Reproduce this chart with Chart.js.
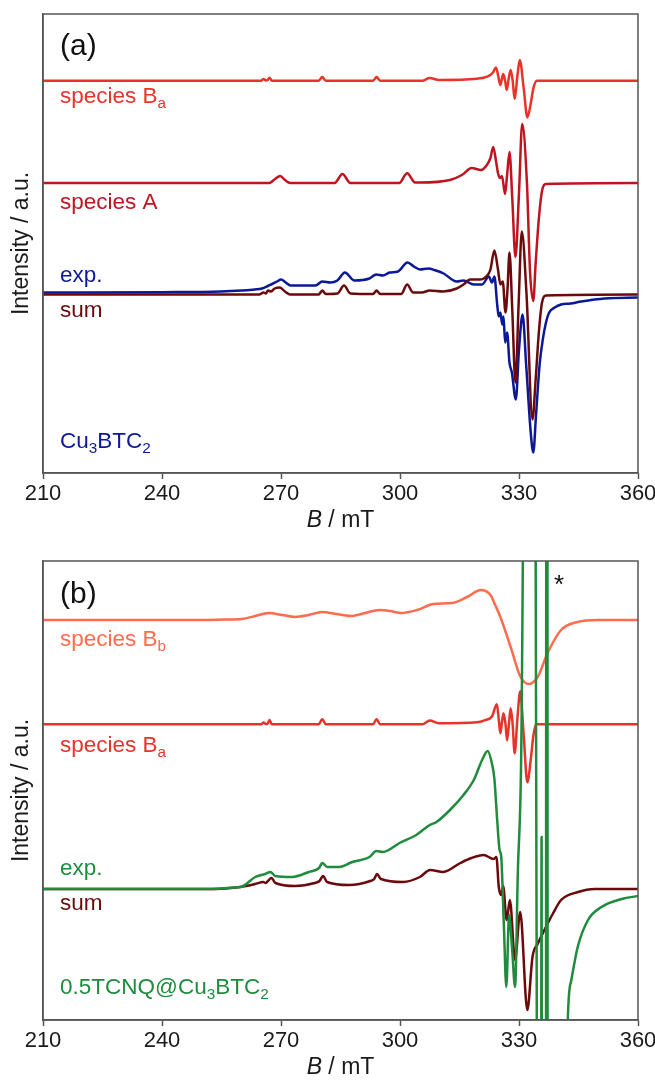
<!DOCTYPE html>
<html>
<head>
<meta charset="utf-8">
<script src="https://cdn.jsdelivr.net/npm/chart.js@4"></script>
<style>
  body { margin: 0; background: #fff; }
  .panel { position: absolute; left: 0; }
  canvas { display: block; }
</style>
</head>
<body>
<div class="panel" style="top:0"><canvas id="chartA" width="655" height="545"></canvas></div>
<div class="panel" style="top:545px"><canvas id="chartB" width="655" height="537"></canvas></div>
<script>
// ---- data (B in mT, intensity relative to each trace's baseline) ----

// panel (a)
const fieldBaA = [210, 265.0, 265.6, 266.2, 266.6, 267.1, 267.7, 279.5, 280.4, 281.3, 293.2, 294.1, 295.0, 305.6, 307.5, 309.8, 319.4, 322.0, 323.4, 324.2, 324.8, 325.3, 325.7, 326.0, 326.5, 326.9, 327.4, 327.9, 328.4, 328.9, 329.6, 330.2, 331.2, 332.1, 333.0, 333.6, 334.5, 360];
const intBaA = [0, 0, 1.7, 0.3, 0.5, 3, 0, 0, 3.7, 0, 0, 3.7, 0, 0, 2.7, 0.8, 2, 4, 8, 13.3, 4, -4.3, 2, 6.7, 0, -9.3, 2, 10.7, 0, -18.3, 5, 20.7, -8, -36.7, -22, -8, 0, 0];

const fieldA = [210, 267.0, 268.5, 269.8, 271.0, 272.3, 283.5, 285.5, 287.5, 299.8, 301.8, 303.8, 305.0, 312.6, 315.6, 318.1, 320.4, 321.9, 322.8, 323.5, 324.2, 324.7, 325.2, 325.7, 326.5, 327.0, 327.6, 328.3, 329.1, 330.0, 330.8, 332.0, 332.8, 333.6, 334.2, 335.0, 335.8, 336.8, 360];
const intA = [0, 0, 4, 7, 3, 0, 0, 9, 0, 0, 9.7, 0.5, 0.5, 3, 8, 15, 13, 18, 25, 36, 22, 10, 5, 7, -11, 8, 31, -15, -74, -10, 59, 0, -90, -118, -80, -36, -8, -1, 0];

const fieldSumA = [210, 264.5, 265.6, 266.2, 266.7, 267.5, 268.4, 269.7, 271.0, 272.3, 279.5, 280.4, 281.3, 284.2, 285.9, 287.5, 293.2, 294.1, 295.0, 300.3, 301.8, 303.3, 305.5, 307.5, 310.9, 314.3, 316.0, 317.7, 320.0, 321.1, 322.2, 322.8, 323.8, 324.7, 325.3, 325.9, 326.6, 327.1, 327.6, 328.3, 329.1, 329.9, 330.7, 331.9, 333.4, 334.2, 335.0, 335.8, 336.8, 360];
const intSumA = [0, 0, 2, 1, 4, 3, 6, 7, 3, 0, 0, 4, 0.5, 1, 9, 1, 0.5, 4, 0.5, 0.5, 10, 2, 2, 4, 3, 6, 10, 15, 15, 16, 20, 25, 44, 25, 10, 13, -18, 5, 42, -15, -88, -10, 63, 0, -125, -85, -38, -8, -1, 0];

const fieldExpA = [210, 240, 255, 260.1, 263.4, 265.2, 266.9, 268.0, 269.0, 270.0, 271.2, 272.4, 275.0, 278.7, 280.4, 282.5, 284.2, 286.1, 288.5, 292.3, 294.0, 295.7, 297.4, 299.5, 301.9, 303.5, 305.0, 307.1, 309.0, 311.0, 314.3, 316.0, 318.6, 320.7, 322.4, 323.2, 323.8, 324.5, 324.9, 325.3, 325.8, 326.1, 326.5, 327.0, 327.6, 328.2, 329.2, 330.0, 330.9, 331.8, 333.0, 333.6, 334.3, 335.2, 336.0, 336.8, 337.6, 339.0, 340.6, 343.0, 345.7, 351.6, 360];
const intExpA = [2, 2.3, 3, 4, 5, 6, 9, 11, 13, 15, 12, 9, 9, 9, 13, 12, 14, 22, 14, 16, 20, 19, 22, 23, 32, 28, 25, 26, 24, 21, 13, 14, 10, 10, 18, 12, 18, -10, -22, -18, -30, -22, -48, -38, -68, -78, -105, -55, -20, -70, -140, -158, -120, -70, -45, -28, -18, -13, -10, -9, -7, -4, -3];

// panel (b)
const fieldBb = [210, 250, 256, 260.1, 263.5, 266.9, 270.3, 273.6, 277.0, 280.4, 284.0, 287.6, 291.2, 294.8, 297.5, 300.3, 304.3, 308.4, 313.0, 316.9, 320.4, 322.8, 324.0, 325.3, 327.9, 330.4, 332.5, 334.7, 337.2, 340.6, 344.8, 349.9, 360];
const intBb = [0, 0, 0.5, 1, 4, 7, 5, 3, 5, 8, 6, 4, 7, 10, 9, 7, 10, 16, 17, 23, 30, 25, 15, 3, -27, -57, -64, -57, -33, -10, -2, 0, 0];

const fieldBaB = [210, 265.0, 265.6, 266.2, 266.6, 267.1, 267.7, 279.5, 280.4, 281.3, 293.2, 294.1, 295.0, 305.6, 307.5, 309.8, 319.4, 321.3, 323.2, 324.4, 324.9, 325.3, 325.7, 326.1, 326.6, 327.0, 327.5, 327.9, 328.4, 328.9, 329.6, 330.3, 331.2, 332.1, 333.0, 333.6, 334.3, 360];
const intBaB = [0, 0, 1.7, 0.3, 0.5, 4.3, 0, 0, 5, 0, 0, 5, 0, 0, 3.7, 1, 2, 4, 8, 20, 5, -9, 2, 11, 0, -16, 2, 16, 0, -29, 6, 33, -12, -58, -34, -12, 0, 0];

const fieldSumB = [210, 250, 256, 260.1, 263.5, 265.5, 266.2, 266.7, 267.6, 268.6, 273.6, 278.5, 279.7, 280.6, 281.6, 287.2, 292.5, 293.5, 294.2, 295.2, 300.8, 305.0, 307.6, 310.9, 315.2, 318.0, 321.1, 323.6, 324.3, 324.9, 325.5, 326.0, 326.9, 327.7, 329.0, 330.3, 332.1, 333.4, 334.7, 336.4, 338.5, 340.6, 344.9, 349.0, 360];
const intSumB = [0, 0, 0.5, 2.3, 5, 7, 6, 8, 11, 6, 3, 6, 8, 13, 7, 4, 8, 10, 15, 10, 7, 12, 19, 17, 26, 31, 34, 30, 32, 2, -6, 3, -31, -11, -71, -23, -121, -68, -55, -41, -25, -11, -3, 0, 0];

const fieldExpB = [210, 250, 255, 258, 260.1, 263.5, 266.0, 267.3, 268.6, 272.8, 277.0, 279.6, 280.4, 281.7, 284.7, 288.0, 292.3, 294.0, 295.7, 299.9, 304.1, 307.5, 309.2, 312.6, 316.0, 318.6, 320.7, 322.1, 323.2, 323.8, 324.5, 325.1, 325.5, 326.2, 326.8, 327.5, 328.3, 329.0, 329.7, 330.6, 333.1, 335.4, 335.7, 335.9, 336.7, 337.05, 337.35, 338.0, 340.0, 342.3, 343.2, 344.8, 347.4, 350.8, 355.9, 360];
const intExpB = [0, 0, 0.5, 1.5, 2.3, 12, 15, 17, 13, 12, 17, 21, 26, 22, 22, 27, 32, 38, 37, 46, 54, 64, 67, 79, 94, 109, 129, 138, 125, 110, 69, 39, 33, -38, -98, -26, -62, -98, 16, 149, 1500, -1000, 52, -1000, -1500, 2500, -2500, -2000, -900, -131, -91, -58, -31, -18, -10, -7];

// ---- layout / style ----
const FONT = "'Liberation Sans', Arial, sans-serif";
const Y_MAX = 459;
const baseA = { Ba: 392.3, A: 290, sum: 178.5 };
const baseB = { Bb: 400, Ba: 295.7, sum: 131 };
const colors = {
  Ba: '#e8322a', A: '#be1520', expA: '#0b1898', sum: '#6a0a0c',
  Bb: '#ff6c4c', expB: '#1f8b3d'
};

function trace(field, vals, offset) {
  return field.map((b, i) => ({ x: b, y: offset + vals[i] }));
}

function line(field, vals, offset, color) {
  return { data: trace(field, vals, offset), borderColor: color, borderWidth: 2.5,
           pointRadius: 0, cubicInterpolationMode: 'monotone', fill: false };
}

const framePlugin = {
  id: 'frame',
  afterDraw(chart) {
    const { ctx, chartArea: a } = chart;
    ctx.save();
    ctx.strokeStyle = '#555';
    ctx.lineWidth = 1.5;
    ctx.strokeRect(a.left, a.top, a.right - a.left, a.bottom - a.top);

    // x axis title with italic B
    const cx = (a.left + a.right) / 2, ty = a.bottom + 48;
    ctx.fillStyle = '#1a1a1a';
    ctx.textBaseline = 'middle';
    ctx.font = 'italic 23px ' + FONT;
    const w1 = ctx.measureText('B').width;
    ctx.font = '23px ' + FONT;
    const w2 = ctx.measureText(' / mT').width;
    const x0 = cx - (w1 + w2) / 2;
    ctx.font = 'italic 23px ' + FONT;
    ctx.fillText('B', x0, ty);
    ctx.font = '23px ' + FONT;
    ctx.fillText(' / mT', x0 + w1, ty);
    ctx.restore();
  }
};

const textPlugin = {
  id: 'panelText',
  afterDraw(chart, args, opts) {
    const ctx = chart.ctx, xs = chart.scales.x, ys = chart.scales.y;
    ctx.save();
    opts.items.forEach(it => {
      let x = xs.getPixelForValue(it.b);
      const y = ys.getPixelForValue(it.v);
      ctx.fillStyle = it.color;
      ctx.textAlign = 'left';
      ctx.textBaseline = it.baseline || 'alphabetic';
      it.parts.forEach(p => {
        const sub = Array.isArray(p);
        const txt = sub ? p[0] : p;
        const size = sub ? it.size * 0.68 : it.size;
        ctx.font = size + 'px ' + FONT;
        ctx.fillText(txt, x, sub ? y + it.size * 0.24 : y);
        x += ctx.measureText(txt).width;
      });
    });
    ctx.restore();
  }
};

function makeOptions(padTop, xHeight, items) {
  return {
    responsive: false,
    animation: false,
    layout: { padding: { top: padTop, right: 17, left: 0, bottom: 0 } },
    plugins: { legend: { display: false }, tooltip: { enabled: false }, panelText: { items: items } },
    scales: {
      x: {
        type: 'linear', min: 210, max: 360,
        ticks: { stepSize: 30, autoSkip: false, maxRotation: 0, color: '#1a1a1a',
                 font: { size: 22, family: FONT }, padding: 2 },
        grid: { drawOnChartArea: false, drawTicks: true, tickLength: 6, tickColor: '#555', tickWidth: 1.5 },
        border: { color: '#555', width: 1.5 },
        afterFit(s) { s.height = xHeight; s.paddingLeft = 0; s.paddingRight = 0; }
      },
      y: {
        type: 'linear', min: 0, max: Y_MAX,
        ticks: { display: false },
        grid: { drawOnChartArea: false, drawTicks: false },
        border: { color: '#555', width: 1.5 },
        title: { display: true, text: 'Intensity / a.u.', color: '#1a1a1a',
                 font: { size: 23, family: FONT }, padding: { top: 8, bottom: 0 } },
        afterFit(s) { s.width = 43; }
      }
    }
  };
}

const labelsA = [
  { parts: ['(a)'], b: 214.3, v: 426, size: 30, color: '#111', baseline: 'middle' },
  { parts: ['species B', ['a']], b: 214.3, v: 370, size: 22.5, color: colors.Ba },
  { parts: ['species A'], b: 214.3, v: 264, size: 22.5, color: colors.A },
  { parts: ['exp.'], b: 214.3, v: 191, size: 22.5, color: colors.expA },
  { parts: ['sum'], b: 214.3, v: 156, size: 22.5, color: colors.sum },
  { parts: ['Cu', ['3'], 'BTC', ['2']], b: 214.3, v: 25, size: 22.5, color: colors.expA }
];

const labelsB = [
  { parts: ['(b)'], b: 214.3, v: 425, size: 30, color: '#111', baseline: 'middle' },
  { parts: ['*'], b: 338.8, v: 434, size: 26, color: '#111', baseline: 'middle' },
  { parts: ['species B', ['b']], b: 214.3, v: 374, size: 22.5, color: colors.Bb },
  { parts: ['species B', ['a']], b: 214.3, v: 268, size: 22.5, color: colors.Ba },
  { parts: ['exp.'], b: 214.3, v: 145, size: 22.5, color: colors.expB },
  { parts: ['sum'], b: 214.3, v: 110, size: 22.5, color: colors.sum },
  { parts: ['0.5TCNQ@Cu', ['3'], 'BTC', ['2']], b: 214.3, v: 26, size: 22.5, color: colors.expB }
];

new Chart(document.getElementById('chartA'), {
  type: 'line',
  data: {
    datasets: [
      line(fieldSumA, intSumA, baseA.sum, colors.sum),
      line(fieldExpA, intExpA, baseA.sum, colors.expA),
      line(fieldA, intA, baseA.A, colors.A),
      line(fieldBaA, intBaA, baseA.Ba, colors.Ba)
    ]
  },
  options: makeOptions(14, 72, labelsA),
  plugins: [framePlugin, textPlugin]
});

new Chart(document.getElementById('chartB'), {
  type: 'line',
  data: {
    datasets: [
      line(fieldExpB, intExpB, baseB.sum, colors.expB),
      line(fieldSumB, intSumB, baseB.sum, colors.sum),
      line(fieldBaB, intBaB, baseB.Ba, colors.Ba),
      line(fieldBb, intBb, baseB.Bb, colors.Bb)
    ]
  },
  options: makeOptions(16, 62, labelsB),
  plugins: [framePlugin, textPlugin]
});
</script>
</body>
</html>
